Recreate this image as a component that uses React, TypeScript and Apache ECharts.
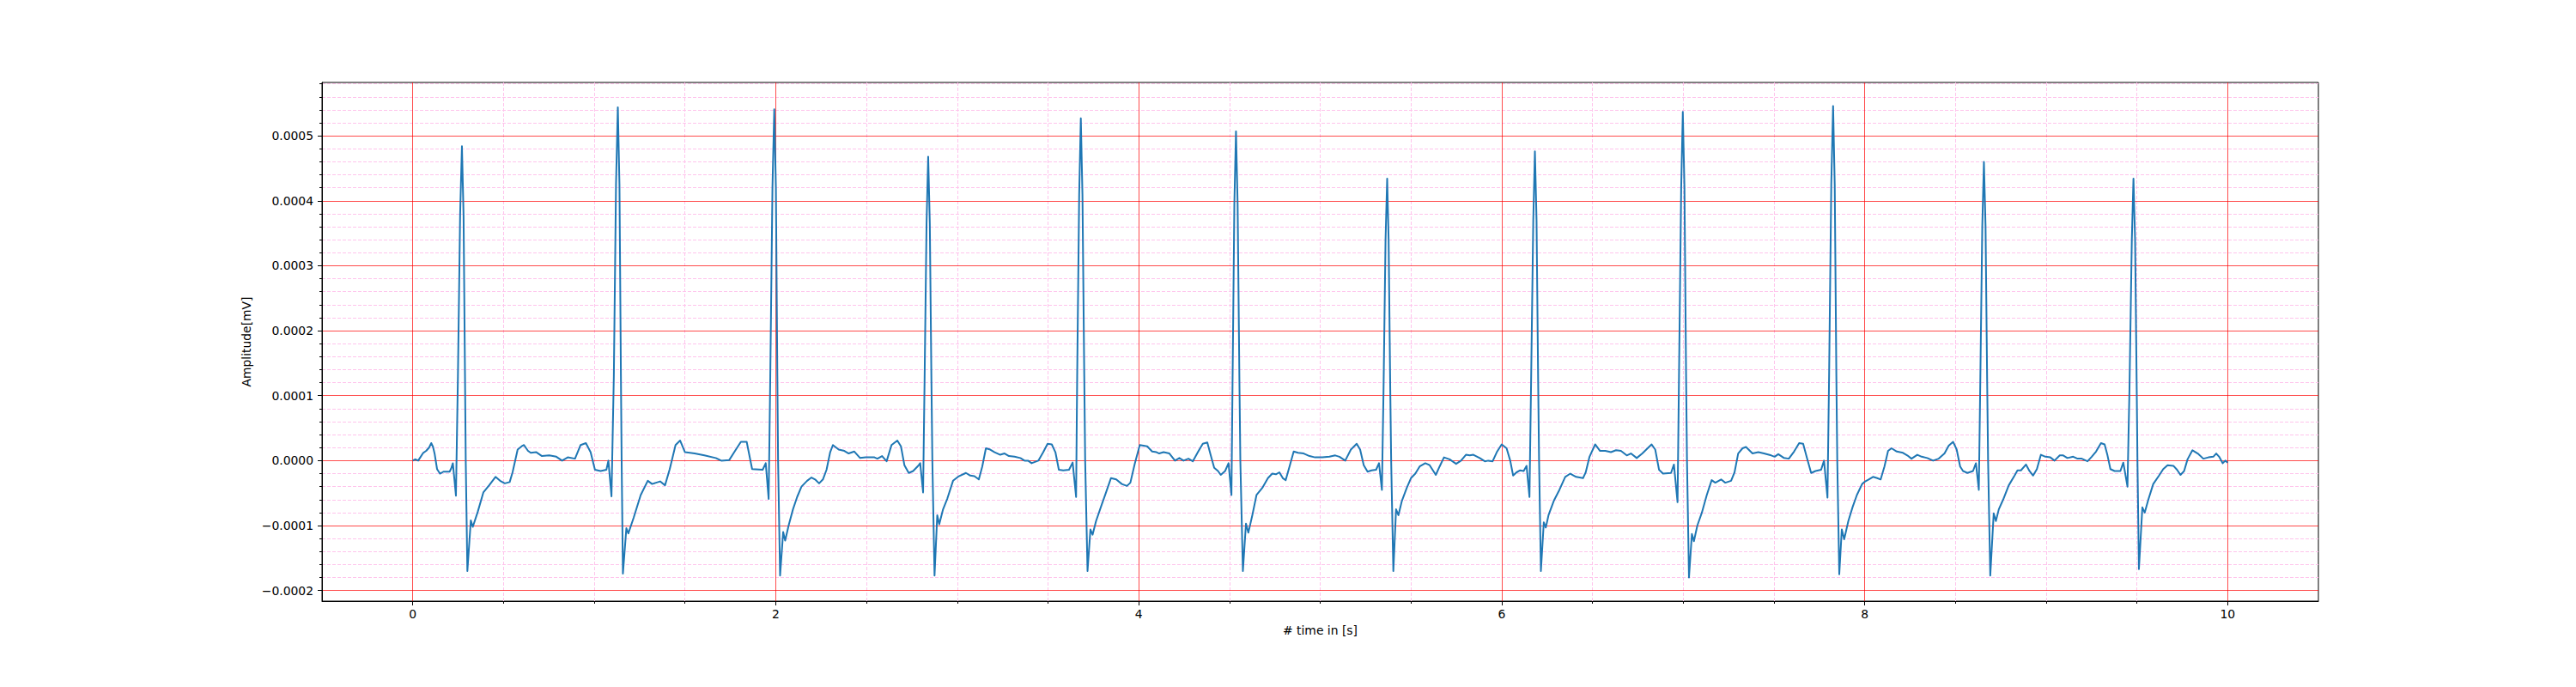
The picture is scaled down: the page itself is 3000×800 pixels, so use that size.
import React, { useEffect, useRef } from 'react';
import * as echarts from 'echarts';

// ECG trace: [time in s, amplitude in units of 1e-4 mV]
const beat01: [number, number][] = [
  [0.0, 0.0], [0.014, 0.02], [0.03, 0.0], [0.058, 0.12], [0.074, 0.15], [0.09, 0.2], [0.102, 0.27], [0.112, 0.21],
  [0.121, 0.1], [0.134, -0.13], [0.15, -0.2], [0.169, -0.17], [0.203, -0.17], [0.212, -0.12], [0.221, -0.04],
  [0.23, -0.3], [0.238, -0.54], [0.249, 1.3], [0.261, 3.78], [0.271, 4.84], [0.28, 3.78], [0.288, 1.27],
  [0.292, 0.0], [0.301, -1.7],
];
const beat02: [number, number][] = [
  [0.32, -0.92], [0.331, -1.02], [0.358, -0.79], [0.389, -0.49], [0.421, -0.38], [0.456, -0.25], [0.481, -0.31],
  [0.507, -0.35], [0.534, -0.33], [0.55, -0.18], [0.578, 0.17], [0.6, 0.22], [0.613, 0.24], [0.635, 0.15],
  [0.65, 0.12], [0.681, 0.13], [0.712, 0.07], [0.752, 0.08], [0.791, 0.06], [0.823, 0.0], [0.854, 0.05],
  [0.894, 0.03], [0.925, 0.24], [0.954, 0.27], [0.98, 0.13], [1.004, -0.14], [1.035, -0.16], [1.067, -0.14],
  [1.078, 0.0], [1.095, -0.55], [1.108, 1.3], [1.12, 4.25], [1.13, 5.44], [1.139, 4.25], [1.147, 1.3],
  [1.151, 0.0], [1.158, -1.74],
];
const beat03: [number, number][] = [
  [1.177, -1.04], [1.188, -1.12], [1.217, -0.88], [1.256, -0.53], [1.295, -0.31], [1.319, -0.36], [1.363, -0.32],
  [1.39, -0.38], [1.416, -0.13], [1.448, 0.24], [1.473, 0.31], [1.5, 0.13], [1.553, 0.11], [1.607, 0.08],
  [1.67, 0.04], [1.7, 0.0], [1.744, 0.01], [1.776, 0.15], [1.808, 0.29], [1.84, 0.29], [1.87, -0.13],
  [1.928, -0.14], [1.945, -0.04], [1.961, -0.59], [1.97, 1.3], [1.982, 4.2], [1.992, 5.41], [2.001, 4.2],
  [2.009, 1.3], [2.013, 0.0], [2.024, -1.77],
];
const beat04: [number, number][] = [
  [2.041, -1.1], [2.052, -1.23], [2.071, -1.0], [2.095, -0.75], [2.118, -0.56], [2.142, -0.4], [2.173, -0.31],
  [2.197, -0.26], [2.217, -0.29], [2.239, -0.35], [2.26, -0.29], [2.28, -0.14], [2.3, 0.13], [2.315, 0.24],
  [2.347, 0.17], [2.378, 0.15], [2.402, 0.11], [2.433, 0.14], [2.465, 0.04], [2.496, 0.05], [2.544, 0.05],
  [2.56, 0.03], [2.586, 0.07], [2.611, -0.01], [2.638, 0.24], [2.67, 0.31], [2.69, 0.22], [2.709, -0.07],
  [2.733, -0.19], [2.757, -0.16], [2.788, -0.07], [2.796, -0.04], [2.812, -0.49], [2.82, 1.2], [2.831, 3.65],
  [2.84, 4.68], [2.849, 3.65], [2.858, 1.2], [2.863, 0.0], [2.875, -1.77],
];
const beat05: [number, number][] = [
  [2.89, -0.84], [2.901, -0.98], [2.922, -0.75], [2.946, -0.58], [2.977, -0.31], [3.009, -0.24], [3.048, -0.19],
  [3.072, -0.23], [3.095, -0.24], [3.119, -0.29], [3.138, -0.09], [3.158, 0.19], [3.182, 0.17], [3.206, 0.13],
  [3.237, 0.09], [3.261, 0.11], [3.285, 0.07], [3.316, 0.06], [3.348, 0.04], [3.371, 0.0], [3.39, 0.0],
  [3.41, -0.04], [3.447, 0.0], [3.474, 0.13], [3.498, 0.26], [3.521, 0.25], [3.541, 0.13], [3.56, -0.14],
  [3.584, -0.15], [3.616, -0.14], [3.636, -0.03], [3.655, -0.56], [3.661, 1.3], [3.672, 4.1], [3.681, 5.27],
  [3.69, 4.1], [3.7, 1.3], [3.705, 0.0], [3.718, -1.7],
];
const beat06: [number, number][] = [
  [3.734, -1.06], [3.746, -1.14], [3.765, -0.93], [3.797, -0.67], [3.82, -0.49], [3.847, -0.27], [3.876, -0.29],
  [3.907, -0.36], [3.935, -0.39], [3.954, -0.34], [3.978, -0.05], [4.006, 0.24], [4.027, 0.23], [4.047, 0.22],
  [4.074, 0.14], [4.098, 0.13], [4.113, 0.11], [4.137, 0.13], [4.169, 0.11], [4.2, 0.0], [4.224, 0.04],
  [4.247, 0.0], [4.274, 0.03], [4.298, -0.01], [4.326, 0.13], [4.353, 0.26], [4.378, 0.28], [4.397, 0.08],
  [4.416, -0.11], [4.437, -0.16], [4.452, -0.22], [4.476, -0.16], [4.495, -0.04], [4.511, -0.53], [4.517, 1.2],
  [4.527, 3.95], [4.536, 5.07], [4.545, 3.95], [4.555, 1.2], [4.56, 0.0], [4.574, -1.7],
];
const beat07: [number, number][] = [
  [4.591, -0.97], [4.604, -1.11], [4.626, -0.84], [4.649, -0.53], [4.681, -0.42], [4.712, -0.27], [4.736, -0.2],
  [4.756, -0.21], [4.775, -0.18], [4.794, -0.27], [4.81, -0.3], [4.831, -0.09], [4.854, 0.14], [4.878, 0.12],
  [4.909, 0.11], [4.941, 0.07], [4.972, 0.05], [5.012, 0.05], [5.051, 0.06], [5.083, 0.08], [5.106, 0.06],
  [5.138, 0.0], [5.169, 0.17], [5.201, 0.26], [5.22, 0.17], [5.24, -0.07], [5.261, -0.17], [5.283, -0.15],
  [5.308, -0.14], [5.324, -0.04], [5.34, -0.45], [5.349, 1.1], [5.36, 3.4], [5.369, 4.34], [5.377, 3.4],
  [5.386, 1.1], [5.391, 0.0], [5.403, -1.7],
];
const beat08: [number, number][] = [
  [5.418, -0.75], [5.431, -0.84], [5.45, -0.62], [5.477, -0.42], [5.5, -0.27], [5.524, -0.2], [5.548, -0.09],
  [5.579, -0.04], [5.603, -0.07], [5.637, -0.22], [5.658, -0.09], [5.682, 0.05], [5.713, 0.02], [5.749, -0.05],
  [5.776, 0.0], [5.803, 0.09], [5.824, 0.08], [5.844, 0.09], [5.879, 0.04], [5.907, -0.01], [5.926, 0.0],
  [5.95, -0.01], [5.973, 0.13], [6.0, 0.25], [6.027, 0.19], [6.047, 0.0], [6.063, -0.23], [6.082, -0.18],
  [6.102, -0.15], [6.121, -0.16], [6.137, -0.08], [6.153, -0.56], [6.162, 1.2], [6.174, 3.7], [6.183, 4.76],
  [6.192, 3.7], [6.201, 1.2], [6.206, 0.0], [6.216, -1.7],
];
const beat09: [number, number][] = [
  [6.232, -0.95], [6.243, -1.03], [6.258, -0.84], [6.287, -0.62], [6.318, -0.45], [6.35, -0.25], [6.378, -0.2],
  [6.41, -0.25], [6.448, -0.27], [6.463, -0.18], [6.484, 0.06], [6.515, 0.25], [6.542, 0.15], [6.571, 0.15],
  [6.602, 0.13], [6.63, 0.16], [6.657, 0.15], [6.689, 0.08], [6.712, 0.11], [6.744, 0.04], [6.775, 0.11],
  [6.804, 0.19], [6.826, 0.25], [6.846, 0.17], [6.867, -0.14], [6.889, -0.2], [6.933, -0.19], [6.949, -0.06],
  [6.969, -0.64], [6.977, 1.3], [6.989, 4.2], [6.998, 5.37], [7.007, 4.2], [7.016, 1.3], [7.021, 0.0],
  [7.032, -1.8],
];
const beat10: [number, number][] = [
  [7.048, -1.13], [7.059, -1.24], [7.078, -1.0], [7.103, -0.8], [7.13, -0.53], [7.157, -0.3], [7.177, -0.34],
  [7.209, -0.29], [7.232, -0.34], [7.264, -0.31], [7.283, -0.18], [7.303, 0.11], [7.327, 0.19], [7.346, 0.21],
  [7.382, 0.11], [7.414, 0.13], [7.445, 0.11], [7.485, 0.08], [7.504, 0.06], [7.524, 0.1], [7.556, 0.04],
  [7.582, 0.03], [7.611, 0.14], [7.639, 0.27], [7.661, 0.26], [7.682, 0.04], [7.705, -0.19], [7.729, -0.16],
  [7.76, -0.14], [7.776, 0.0], [7.795, -0.57], [7.804, 1.3], [7.816, 4.25], [7.826, 5.46], [7.835, 4.25],
  [7.844, 1.3], [7.849, 0.0], [7.86, -1.75],
];
const beat11: [number, number][] = [
  [7.874, -1.06], [7.887, -1.21], [7.91, -0.93], [7.934, -0.71], [7.957, -0.53], [7.986, -0.36], [8.003, -0.32],
  [8.022, -0.29], [8.046, -0.25], [8.069, -0.27], [8.088, -0.29], [8.109, -0.09], [8.129, 0.15], [8.148, 0.19],
  [8.177, 0.14], [8.211, 0.12], [8.235, 0.08], [8.258, 0.03], [8.29, 0.09], [8.314, 0.06], [8.345, 0.04],
  [8.377, 0.0], [8.408, 0.03], [8.44, 0.11], [8.463, 0.23], [8.487, 0.29], [8.507, 0.17], [8.526, -0.09],
  [8.542, -0.16], [8.566, -0.19], [8.597, -0.16], [8.613, -0.04], [8.629, -0.45], [8.637, 1.2], [8.648, 3.6],
  [8.657, 4.6], [8.666, 3.6], [8.675, 1.2], [8.68, 0.0], [8.692, -1.77],
];
const beat12: [number, number][] = [
  [8.711, -0.81], [8.723, -0.93], [8.739, -0.75], [8.763, -0.6], [8.794, -0.38], [8.826, -0.23], [8.842, -0.15],
  [8.861, -0.15], [8.889, -0.06], [8.908, -0.16], [8.928, -0.23], [8.949, -0.13], [8.971, 0.09], [8.996, 0.06],
  [9.023, 0.05], [9.046, 0.0], [9.075, 0.08], [9.094, 0.08], [9.117, 0.04], [9.149, 0.06], [9.173, 0.03],
  [9.196, 0.03], [9.228, -0.01], [9.251, 0.06], [9.275, 0.14], [9.302, 0.27], [9.322, 0.25], [9.338, 0.08],
  [9.354, -0.13], [9.377, -0.16], [9.409, -0.16], [9.425, -0.03], [9.448, -0.4], [9.459, 1.1], [9.472, 3.4],
  [9.481, 4.34], [9.49, 3.4], [9.499, 1.1], [9.503, 0.0], [9.511, -1.67],
];
const tailSeg: [number, number][] = [
  [9.53, -0.72], [9.543, -0.8], [9.563, -0.6], [9.59, -0.36], [9.622, -0.23], [9.645, -0.13], [9.669, -0.07],
  [9.701, -0.08], [9.721, -0.14], [9.74, -0.22], [9.76, -0.16], [9.779, 0.02], [9.806, 0.16], [9.835, 0.11],
  [9.866, 0.03], [9.894, 0.05], [9.921, 0.06], [9.937, 0.11], [9.953, 0.06], [9.973, -0.04], [9.987, 0.0],
  [10.0, -0.03],
];

const AMP_UNIT = 1e-4; // amplitudes above are stored in 1e-4 mV

// axis ticks
const xMajorTicks = [0, 2, 4, 6, 8, 10];
const xMinorTicks = [0.5, 1, 1.5, 2.5, 3, 3.5, 4.5, 5, 5.5, 6.5, 7, 7.5, 8.5, 9, 9.5];
const yMajorTicks = [-0.0002, -0.0001, 0, 0.0001, 0.0002, 0.0003, 0.0004, 0.0005];
const yMinorTicks = [
  -0.00018, -0.00016, -0.00014, -0.00012, -0.00008, -0.00006, -0.00004, -0.00002,
  0.00002, 0.00004, 0.00006, 0.00008, 0.00012, 0.00014, 0.00016, 0.00018,
  0.00022, 0.00024, 0.00026, 0.00028, 0.00032, 0.00034, 0.00036, 0.00038,
  0.00042, 0.00044, 0.00046, 0.00048, 0.00052, 0.00054, 0.00056, 0.00058,
];

const FONT = '"DejaVu Sans", sans-serif';

const App = () => {
  const chartRef = useRef<HTMLDivElement>(null);

  useEffect(() => {
    if (!chartRef.current) return;
    const chart = echarts.init(chartRef.current, null, { renderer: 'svg' });

    const trace = [
      ...beat01, ...beat02, ...beat03, ...beat04, ...beat05, ...beat06,
      ...beat07, ...beat08, ...beat09, ...beat10, ...beat11, ...beat12, ...tailSeg,
    ].map(([t, a]) => [t, a * AMP_UNIT]);

    const xMin = -0.5;
    const xMax = 10.5;
    const yMin = -0.0002163;
    const yMax = 0.0005822;

    const majorLine = { color: 'rgba(255,0,0,0.7)', width: 1 };
    const minorLine = { color: '#ffc4ec', width: 1, type: [4, 2] };
    const tickLine = { color: '#000', width: 1 };

    // minor grid as mark lines at the minor tick values (precision kept, or tiny y values round to 0)
    const minorGrid = [
      ...xMinorTicks.map((v) => ({ xAxis: v })),
      ...yMinorTicks.map((v) => ({ yAxis: v })),
    ];

    const option = {
      animation: false,
      backgroundColor: '#ffffff',
      grid: {
        left: 375,
        right: 300,
        top: 96,
        bottom: 100,
        show: true,
        borderColor: '#000',
        borderWidth: 1,
        backgroundColor: 'transparent',
        outerBoundsMode: 'none',
      },
      xAxis: [
        {
          type: 'value',
          position: 'bottom',
          min: xMin,
          max: xMax,
          name: '# time in [s]',
          nameLocation: 'middle',
          nameGap: 27,
          nameTextStyle: { color: '#000', fontSize: 13.9, fontFamily: FONT },
          axisLine: { show: true, onZero: false, lineStyle: tickLine },
          axisTick: { show: true, length: 5, customValues: xMajorTicks, lineStyle: tickLine },
          axisLabel: {
            show: true,
            customValues: xMajorTicks,
            color: '#000',
            fontSize: 13.9,
            fontFamily: FONT,
            margin: 8,
            formatter: (v: number) => String(v),
          },
          splitLine: { show: true, lineStyle: majorLine },
          z: 2,
        },
        {
          // minor ticks only
          type: 'value',
          position: 'bottom',
          min: xMin,
          max: xMax,
          axisLine: { show: false, onZero: false },
          axisTick: { show: true, length: 3, customValues: xMinorTicks, lineStyle: tickLine },
          axisLabel: { show: false },
          splitLine: { show: false },
          z: 1,
        },
      ],
      yAxis: [
        {
          type: 'value',
          position: 'left',
          min: yMin,
          max: yMax,
          name: 'Amplitude[mV]',
          nameLocation: 'middle',
          nameRotate: 90,
          nameGap: 74,
          nameTextStyle: { color: '#000', fontSize: 13.9, fontFamily: FONT },
          axisLine: { show: true, onZero: false, lineStyle: tickLine },
          axisTick: { show: true, length: 5, customValues: yMajorTicks, lineStyle: tickLine },
          axisLabel: {
            show: true,
            customValues: yMajorTicks,
            color: '#000',
            fontSize: 13.9,
            fontFamily: FONT,
            margin: 10,
            formatter: (v: number) => (v < 0 ? '\u2212' : '') + Math.abs(v).toFixed(4),
          },
          splitLine: { show: true, lineStyle: majorLine },
          z: 2,
        },
        {
          // minor ticks only
          type: 'value',
          position: 'left',
          min: yMin,
          max: yMax,
          axisLine: { show: false, onZero: false },
          axisTick: { show: true, length: 3, customValues: yMinorTicks, lineStyle: tickLine },
          axisLabel: { show: false },
          splitLine: { show: false },
          z: 1,
        },
      ],
      series: [
        {
          name: 'ECG',
          type: 'line',
          xAxisIndex: 0,
          yAxisIndex: 0,
          data: trace,
          showSymbol: false,
          symbol: 'none',
          clip: true,
          lineStyle: { color: '#1f77b4', width: 2, join: 'round', cap: 'butt' },
          z: 5,
          markLine: {
            silent: true,
            z: 1,
            precision: 10,
            symbol: ['none', 'none'],
            label: { show: false },
            emphasis: { disabled: true },
            lineStyle: minorLine,
            data: minorGrid,
          },
        },
      ],
    };

    chart.setOption(option);

    return () => {
      chart.dispose();
    };
  }, []);

  return (
    <div
      ref={chartRef}
      style={{ position: 'fixed', left: 0, top: 0, width: '3000px', height: '800px' }}
    />
  );
};

export default App;
